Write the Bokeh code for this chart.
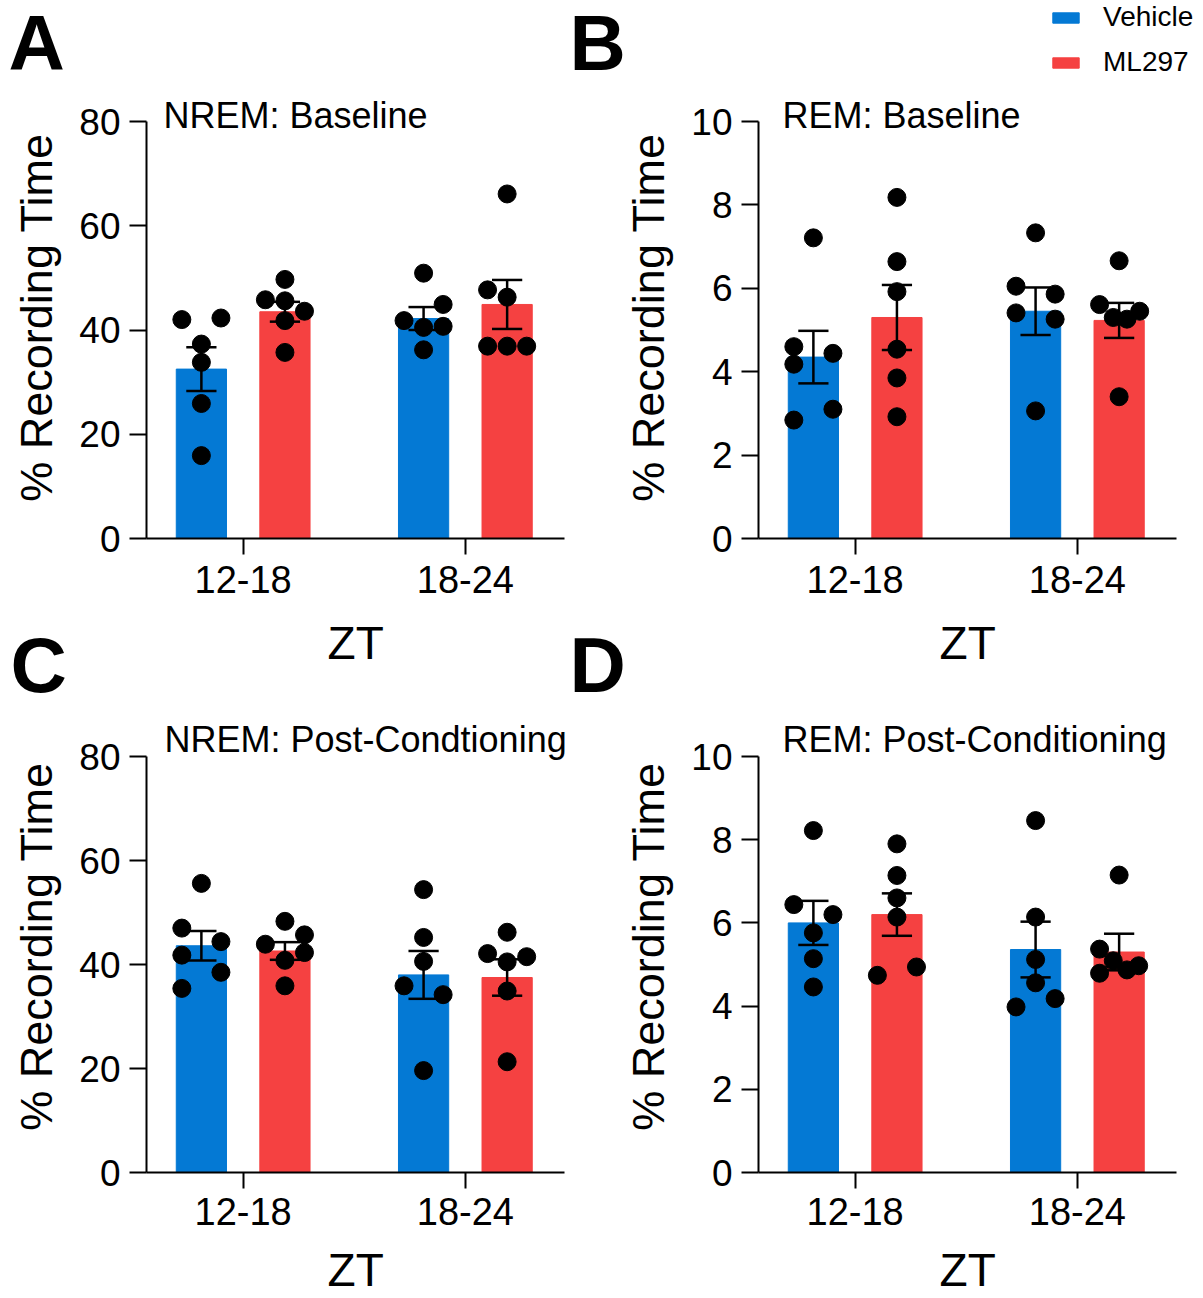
from bokeh.plotting import figure
from bokeh.layouts import column, row
from bokeh.models import Label, Legend, LegendItem, FixedTicker, Range1d
from bokeh.embed import file_html
from bokeh.resources import INLINE

# ---------------- data ----------------
categories = ["12-18", "18-24"]
groups = ["Vehicle", "ML297"]
colors = {"Vehicle": "#0479D4", "ML297": "#F54141"}
x_title = "ZT"
y_title = "% Recording Time"

# Panel A: NREM baseline (% recording time)
a_veh_mean = [32.5, 42.2]
a_veh_sem = [4.2, 2.2]
a_ml_mean = [43.5, 44.9]
a_ml_sem = [1.9, 4.7]
a_veh_pts = [[42.0, 42.3, 37.3, 33.8, 25.9, 15.9], [50.9, 44.9, 41.8, 40.5, 40.7, 36.2]]
a_ml_pts = [[49.7, 45.8, 45.6, 43.6, 41.8, 35.7], [66.1, 47.7, 46.3, 36.9, 36.9, 36.9]]

# Panel B: REM baseline
b_veh_mean = [4.35, 5.45]
b_veh_sem = [0.63, 0.57]
b_ml_mean = [5.30, 5.23]
b_ml_sem = [0.78, 0.42]
b_veh_pts = [[7.21, 4.60, 4.44, 4.18, 3.10, 2.84], [7.33, 6.05, 5.86, 5.41, 5.26, 3.06]]
b_ml_pts = [[8.18, 6.64, 5.92, 4.54, 3.85, 2.92], [6.66, 5.61, 5.45, 5.30, 5.26, 3.40]]

# Panel C: NREM post-conditioning
c_veh_mean = [43.6, 38.0]
c_veh_sem = [2.85, 4.6]
c_ml_mean = [42.6, 37.5]
c_ml_sem = [1.7, 3.5]
c_veh_pts = [[55.6, 47.0, 44.4, 41.8, 38.5, 35.4], [54.4, 45.2, 40.6, 35.9, 34.2, 19.6]]
c_ml_pts = [[48.3, 45.7, 43.9, 42.3, 40.8, 35.9], [46.2, 42.1, 41.5, 40.5, 34.9, 21.3]]

# Panel D: REM post-conditioning
d_veh_mean = [6.00, 5.36]
d_veh_sem = [0.53, 0.67]
d_ml_mean = [6.20, 5.30]
d_ml_sem = [0.51, 0.44]
d_veh_pts = [[8.22, 6.44, 6.20, 5.76, 5.14, 4.46], [8.46, 6.14, 5.12, 4.56, 4.18, 3.98]]
d_ml_pts = [[7.90, 7.14, 6.60, 6.14, 4.74, 4.94], [7.15, 5.37, 5.09, 4.79, 4.87, 4.97]]

# ---------------- layout / style (scatter column slots) ----------------
a_veh_slots = [[-1, 1, 0, 0, 0, 0], [0, 1, -1, 0, 1, 0]]
a_ml_slots = [[0, -1, 0, 1, 0, 0], [0, -1, 0, -1, 0, 1]]
b_veh_slots = [[0, -1, 1, -1, 1, -1], [0, -1, 1, -1, 1, 0]]
b_ml_slots = [[0, 0, 0, 0, 0, 0], [0, -1, 1.05, -0.3, 0.4, 0]]
c_veh_slots = [[0, -1, 1, -1, 1, -1], [0, 0, 0, -1, 1, 0]]
c_ml_slots = [[0, 1, -1, 1, 0, 0], [0, -1, 1, 0, 0, 0]]
d_veh_slots = [[0, -1, 1, 0, 0, 0], [0, 0, 0, 0, 1, -1]]
d_ml_slots = [[0, 0, 0, 0, -1, 1], [0, -1, -0.3, -1, 0.4, 1]]

FONT = "Liberation Sans"
X0, X1 = 0.565, 2.448      # visible x-axis extent (category 1 and 2 at 1, 2)
PXU = 222.2                # pixels per x unit
OFFSET = 0.188
BAR_W = 0.226
SLOT = 0.088
CAP = 0.068
BASE_SHIFT = 0.39          # measured: rendered baseline sits this many em below y

W_LEFT, W_RIGHT = 601, 602
# page rows: header 0-96, top panels 96-616, header 616-720, bottom panels 720-1243, header 1243-1298
H1_H, R1_H, H2_H, R2_H, H3_H = 96, 520, 104, 523, 55
R1_TOP = H1_H
H2_TOP = R1_TOP + R1_H
R2_TOP = H2_TOP + H2_H
H3_TOP = R2_TOP + R2_H


def make_panel(title, ymax, ystep, veh, ml, width, height, bl, bb, axis_px,
               title_dx, title_dy, xlab_standoff):
    frame_h = height - bb
    frame_w = width - bl
    p = figure(width=width, height=height,
               x_range=Range1d(X0, X0 + frame_w / PXU),
               y_range=Range1d(0, ymax * frame_h / axis_px),
               output_backend="svg", toolbar_location=None,
               min_border_left=bl, min_border_right=0,
               min_border_top=0, min_border_bottom=bb)
    p.outline_line_color = None
    p.grid.grid_line_color = None
    p.border_fill_color = "white"

    xs = [i + 1 for i in range(len(categories))]
    for name, sign, (means, sems, pts, slots) in (("Vehicle", -1, veh), ("ML297", 1, ml)):
        bx = [x + sign * OFFSET for x in xs]
        p.vbar(x=bx, top=means, width=BAR_W, bottom=0,
               fill_color=colors[name], line_color=colors[name], line_width=1)
        lo = [m - s for m, s in zip(means, sems)]
        hi = [m + s for m, s in zip(means, sems)]
        p.segment(x0=bx, x1=bx, y0=lo, y1=hi, line_color="black", line_width=2.5)
        p.segment(x0=[b - CAP for b in bx], x1=[b + CAP for b in bx], y0=hi, y1=hi,
                  line_color="black", line_width=2.5)
        p.segment(x0=[b - CAP for b in bx], x1=[b + CAP for b in bx], y0=lo, y1=lo,
                  line_color="black", line_width=2.5)
        dx, dy = [], []
        for b, vals, sl in zip(bx, pts, slots):
            for v, s in zip(vals, sl):
                dx.append(b + s * SLOT)
                dy.append(v)
        p.scatter(x=dx, y=dy, size=18, fill_color="black", line_color="black")

    p.yaxis.ticker = FixedTicker(ticks=list(range(0, ymax + 1, ystep)))
    p.yaxis.bounds = (0, ymax)
    p.xaxis.ticker = FixedTicker(ticks=xs)
    p.xaxis.bounds = (X0, X1)
    p.xaxis.major_label_overrides = {x: c for x, c in zip(xs, categories)}
    for ax in (p.xaxis[0], p.yaxis[0]):
        ax.axis_line_width = 2
        ax.axis_line_color = "black"
        ax.major_tick_line_width = 2
        ax.major_tick_line_color = "black"
        ax.major_tick_in = 0
        ax.minor_tick_line_color = None
        ax.major_label_text_font = FONT
        ax.major_label_text_color = "black"
    p.yaxis.major_tick_out = 17
    p.yaxis.major_label_standoff = 9
    p.yaxis.major_label_text_font_size = "37px"
    p.xaxis.major_tick_out = 16
    p.xaxis.major_label_standoff = xlab_standoff
    p.xaxis.major_label_text_font_size = "38px"
    p.yaxis.axis_label = y_title
    p.yaxis.axis_label_text_font = FONT
    p.yaxis.axis_label_text_font_size = "45px"
    p.yaxis.axis_label_text_font_style = "normal"
    p.yaxis.axis_label_text_color = "black"
    p.yaxis.axis_label_standoff = 14

    upp = ymax / axis_px
    p.add_layout(Label(x=X0 + title_dx / PXU,
                       y=ymax - (title_dy - BASE_SHIFT * 36) * upp,
                       text=title, text_font=FONT, text_font_size="36px",
                       text_color="black", text_baseline="alphabetic", text_align="left"))
    return p


pa = make_panel("NREM: Baseline", 80, 20,
                (a_veh_mean, a_veh_sem, a_veh_pts, a_veh_slots),
                (a_ml_mean, a_ml_sem, a_ml_pts, a_ml_slots),
                W_LEFT, R1_H, 146, 78, 417, 17, 8.5, 11)
pb = make_panel("REM: Baseline", 10, 2,
                (b_veh_mean, b_veh_sem, b_veh_pts, b_veh_slots),
                (b_ml_mean, b_ml_sem, b_ml_pts, b_ml_slots),
                W_RIGHT, R1_H, 157, 78, 417, 24, 8.5, 11)
pc = make_panel("NREM: Post-Condtioning", 80, 20,
                (c_veh_mean, c_veh_sem, c_veh_pts, c_veh_slots),
                (c_ml_mean, c_ml_sem, c_ml_pts, c_ml_slots),
                W_LEFT, R2_H, 146, 71, 416, 18, -3, 9)
pd = make_panel("REM: Post-Conditioning", 10, 2,
                (d_veh_mean, d_veh_sem, d_veh_pts, d_veh_slots),
                (d_ml_mean, d_ml_sem, d_ml_pts, d_ml_slots),
                W_RIGHT, R2_H, 157, 71, 416, 24, -3, 9)


def header(height, y_page_top):
    h = figure(width=W_LEFT + W_RIGHT, height=height,
               x_range=Range1d(0, W_LEFT + W_RIGHT),
               y_range=Range1d(y_page_top + height, y_page_top),
               x_axis_type=None, y_axis_type=None,
               output_backend="svg", toolbar_location=None,
               min_border_left=0, min_border_right=0, min_border_top=0, min_border_bottom=0)
    h.outline_line_color = None
    h.grid.grid_line_color = None
    h.border_fill_color = "white"
    return h


def text_at(h, text, x, baseline, size, bold=False, align="left"):
    h.add_layout(Label(x=x, y=baseline - BASE_SHIFT * size, text=text, text_font=FONT,
                       text_font_size=f"{size}px",
                       text_font_style="bold" if bold else "normal", text_color="black",
                       text_baseline="alphabetic", text_align=align))


ZT_X = (146 + (X1 - X0) * PXU / 2, W_LEFT + 157 + (X1 - X0) * PXU / 2)

# header 1: panel letters A, B and legend
h1 = header(H1_H, 0)
text_at(h1, "A", 8, 73, 78, bold=True)
text_at(h1, "B", 569, 73, 78, bold=True)
nan = float("nan")
legend_renderers = [h1.vbar(x=[nan], top=[nan], width=1, fill_color=colors[g], line_color=colors[g])
                    for g in groups]
legend = Legend(items=[LegendItem(label=g, renderers=[r]) for g, r in zip(groups, legend_renderers)],
                location=(1049, 18), orientation="vertical",
                label_text_font=FONT, label_text_font_size="28px", label_text_color="black",
                glyph_width=33, glyph_height=13, label_standoff=21, spacing=13,
                padding=0, margin=0, border_line_color=None, background_fill_alpha=0)
h1.add_layout(legend, "center")

# header 2: x-axis titles of the top row, panel letters C, D
h2 = header(H2_H, H2_TOP)
for cx in ZT_X:
    text_at(h2, x_title, cx, 660, 46, align="center")
text_at(h2, "C", 10, 695, 78, bold=True)
text_at(h2, "D", 569, 695, 78, bold=True)

# header 3: x-axis titles of the bottom row
h3 = header(H3_H, H3_TOP)
for cx in ZT_X:
    text_at(h3, x_title, cx, 1287, 46, align="center")

layout = column(h1, row(pa, pb), h2, row(pc, pd), h3)
open("out.html", "w").write(file_html(layout, INLINE))
